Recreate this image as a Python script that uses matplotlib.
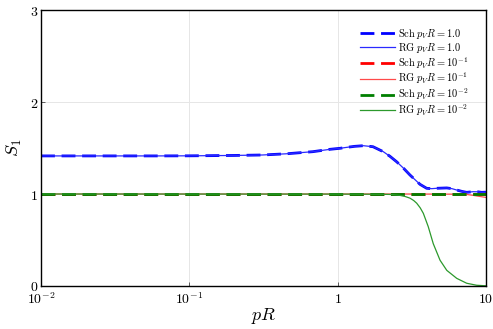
import numpy as np
import matplotlib
matplotlib.use("Agg")
import matplotlib.pyplot as plt

plt.rcParams['mathtext.fontset'] = 'cm'
plt.rcParams['font.family'] = 'serif'
plt.rcParams['font.serif'] = ['DejaVu Serif']

# blue: p_V R = 1.0 (Sch and RG lie on top of each other)
x_blue = [0.01, 0.03, 0.06, 0.1, 0.2, 0.31, 0.45, 0.68, 0.89, 1.04, 1.15, 1.3,
          1.49, 1.73, 2.03, 2.25, 2.5, 2.78, 3.07, 3.35, 3.59, 3.98, 4.3, 4.65,
          5.44, 5.9, 6.35, 6.9, 7.41, 8.17, 8.8, 9.36, 10.0]
s_blue_sch = [1.414, 1.414, 1.414, 1.415, 1.419, 1.424, 1.437, 1.46, 1.486, 1.497,
              1.507, 1.518, 1.525, 1.514, 1.46, 1.41, 1.35, 1.28, 1.207, 1.15,
              1.105, 1.062, 1.058, 1.062, 1.066, 1.058, 1.043, 1.028, 1.018,
              1.025, 1.024, 1.018, 1.02]
s_blue_rg = s_blue_sch

# red: p_V R = 1e-1
x_red_sch = [0.01, 10.0]
s_red_sch = [1.0, 1.0]
x_red_rg = [0.01, 1.0, 3.0, 5.0, 6.35, 7.41, 8.2, 9.36, 10.0]
s_red_rg = [1.0, 1.0, 1.0, 0.999, 0.998, 0.995, 0.985, 0.97, 0.963]

# green: p_V R = 1e-2
x_green_sch = [0.01, 10.0]
s_green_sch = [1.0, 1.0]
x_green_rg = [0.01, 1.0, 2.0, 2.3, 2.63, 2.85, 3.07, 3.25, 3.41, 3.6, 3.78, 4.08,
              4.41, 4.9, 5.44, 6.35, 7.41, 8.65, 10.0]
s_green_rg = [1.0, 0.999, 0.997, 0.995, 0.985, 0.973, 0.955, 0.93, 0.90, 0.85,
              0.79, 0.645, 0.46, 0.28, 0.17, 0.083, 0.03, 0.008, 0.002]

fig = plt.figure(figsize=(4.93, 3.29), dpi=100)
ax = fig.add_axes([0.0832, 0.1307, 0.9026, 0.8389])

dash = (5, 2.4)
ax.plot(x_blue, s_blue_sch, color='#0000ff', lw=2, dashes=dash, label=r'$\mathrm{Sch}\;p_V R = 1.0$')
ax.plot(x_blue, s_blue_rg, color='#2a2aff', lw=0.9, label=r'$\mathrm{RG}\;p_V R = 1.0$')
ax.plot(x_red_sch, s_red_sch, color='#ff0000', lw=2, dashes=dash, label=r'$\mathrm{Sch}\;p_V R = 10^{-1}$')
ax.plot(x_red_rg, s_red_rg, color='#ff4a4a', lw=0.9, label=r'$\mathrm{RG}\;p_V R = 10^{-1}$')
ax.plot(x_green_sch, s_green_sch, color='#007f00', lw=2, dashes=dash, label=r'$\mathrm{Sch}\;p_V R = 10^{-2}$')
ax.plot(x_green_rg, s_green_rg, color='#2c992c', lw=0.9, label=r'$\mathrm{RG}\;p_V R = 10^{-2}$')

ax.set_xscale('log')
ax.set_xlim(0.01, 10)
ax.set_ylim(0, 3)
ax.set_xticks([0.01, 0.1, 1, 10])
ax.set_xticklabels([r'$10^{-2}$', r'$10^{-1}$', r'$1$', r'$10$'])
ax.set_yticks([0, 1, 2, 3])
ax.set_yticklabels([r'$0$', r'$1$', r'$2$', r'$3$'])
ax.minorticks_off()
ax.tick_params(direction='in', length=3, width=0.6, labelsize=10, color='#444444')
ax.tick_params(axis='x', pad=4)
ax.tick_params(axis='y', pad=2)
ax.grid(True, color='#e6e6e6', lw=0.7)
ax.set_axisbelow(True)
for sp in ax.spines.values():
    sp.set_linewidth(1.0)
    sp.set_color('black')

ax.set_xlabel(r'$pR$', fontsize=13, labelpad=-1)
ax.set_ylabel(r'$S_1$', fontsize=13, labelpad=4)

ax.legend(loc='upper right', bbox_to_anchor=(0.98, 0.97), frameon=False, fontsize=7.5,
          handlelength=3.4, handletextpad=0.3, labelspacing=0.02, borderpad=0.3)

fig.savefig('out.png', dpi=100)
